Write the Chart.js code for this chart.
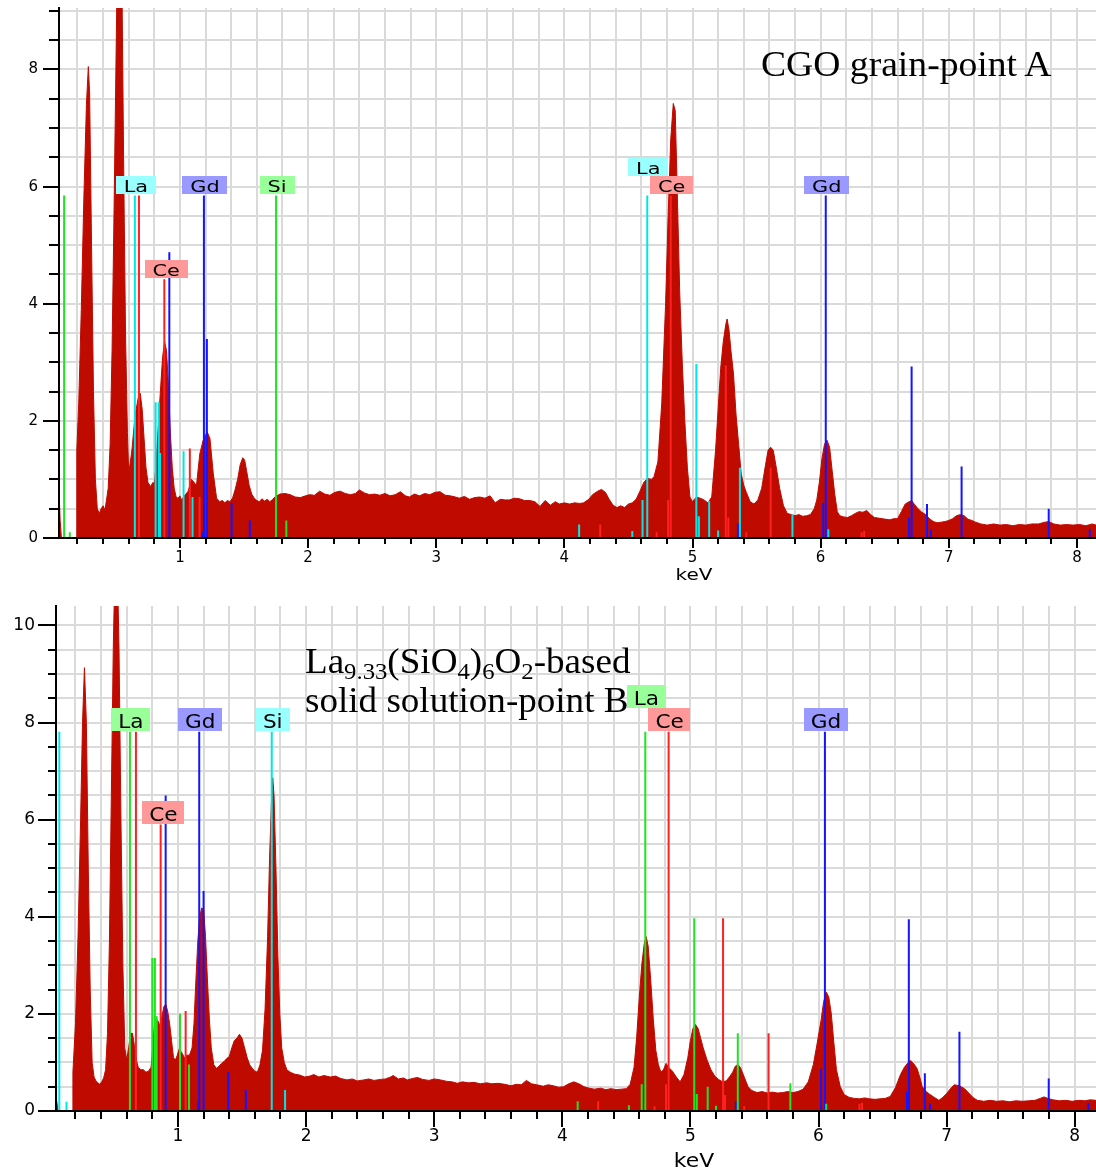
<!DOCTYPE html>
<html>
<head>
<meta charset="utf-8">
<script src="https://cdn.jsdelivr.net/npm/chart.js@4"></script>
<style>
  body { margin: 0; background: #fff; }
  #wrap { position: relative; width: 1096px; height: 1171px; overflow: hidden; }
  #wrap canvas { position: absolute; left: 0; }
  #chartA { top: 0; }
  #chartB { top: 585px; }
  .note { position: absolute; font-family: 'Liberation Serif', 'Times New Roman', serif; font-size: 36px; line-height: 39px; color: #000; white-space: nowrap; transform-origin: 0 0; }
  .note sub { font-size: 24px; vertical-align: baseline; position: relative; top: 6px; }
  .wideA { transform: scaleX(1.045); }
  .wideB { transform: scaleX(1.03); }
</style>
</head>
<body>
<div id="wrap">
  <canvas id="chartA" width="1096" height="585"></canvas>
  <canvas id="chartB" width="1096" height="586"></canvas>
  <div class="note wideA" style="left:761px; top:45px;">CGO grain-point A</div>
  <div class="note wideB" style="left:305px; top:642px;">La<sub>9.33</sub>(SiO<sub>4</sub>)<sub>6</sub>O<sub>2</sub>-based</div>
  <div class="note wideB" style="left:305px; top:681px;">solid solution-point B</div>
</div>
<script>
// ---- spectrum A: CGO grain (energy in keV, counts) ----
const energyA = [
  0.056,0.065,0.075,0.19,0.195,0.21,0.23,0.25,0.27,0.285,
  0.295,0.31,0.325,0.34,0.355,0.37,0.385,0.40,0.415,0.43,
  0.44,0.455,0.47,0.485,0.50,0.515,0.53,0.545,0.56,0.575,
  0.59,0.60,0.625,0.65,0.675,0.69,0.705,0.72,0.735,0.75,
  0.77,0.79,0.80,0.815,0.83,0.85,0.865,0.88,0.895,0.91,
  0.925,0.94,0.955,0.97,0.985,1.00,1.012,1.035,1.064,1.09,
  1.11,1.129,1.155,1.181,1.20,1.213,1.234,1.26,1.286,1.31,
  1.33,1.35,1.37,1.39,1.41,1.43,1.45,1.47,1.49,1.505,
  1.52,1.54,1.56,1.58,1.60,1.62,1.64,1.66,1.68,1.70,
  1.72,1.74,1.78,1.82,1.86,1.90,1.94,1.98,2.01,2.05,
  2.09,2.13,2.17,2.21,2.25,2.29,2.33,2.37,2.40,2.44,
  2.48,2.52,2.56,2.60,2.64,2.68,2.72,2.76,2.79,2.83,
  2.87,2.91,2.95,2.99,3.03,3.07,3.11,3.15,3.18,3.22,
  3.26,3.30,3.34,3.38,3.42,3.46,3.50,3.54,3.57,3.61,
  3.65,3.69,3.73,3.77,3.81,3.85,3.89,3.93,3.96,4.00,
  4.04,4.08,4.12,4.15,4.19,4.22,4.26,4.29,4.32,4.35,
  4.38,4.41,4.44,4.47,4.50,4.53,4.56,4.59,4.62,4.65,
  4.68,4.70,4.73,4.76,4.79,4.81,4.83,4.85,4.865,4.88,
  4.90,4.92,4.94,4.96,4.98,5.00,5.03,5.06,5.09,5.12,
  5.15,5.18,5.20,5.22,5.24,5.26,5.27,5.285,5.30,5.32,
  5.34,5.36,5.38,5.40,5.42,5.45,5.48,5.51,5.54,5.57,
  5.59,5.61,5.63,5.65,5.68,5.71,5.74,5.77,5.80,5.83,
  5.86,5.89,5.92,5.95,5.97,5.99,6.01,6.03,6.05,6.07,
  6.09,6.11,6.13,6.15,6.18,6.21,6.24,6.27,6.30,6.33,
  6.36,6.39,6.42,6.45,6.48,6.51,6.54,6.57,6.60,6.63,
  6.66,6.69,6.71,6.73,6.76,6.79,6.82,6.85,6.88,6.91,
  6.94,6.97,7.00,7.03,7.06,7.09,7.12,7.15,7.18,7.21,
  7.25,7.30,7.35,7.40,7.45,7.50,7.55,7.60,7.65,7.70,
  7.75,7.78,7.82,7.87,7.92,7.97,8.02,8.07,8.12,8.149
];
const countsA = [
  0.80,0.30,0,0,1.50,2.30,3.90,5.80,7.40,8.05,
  7.60,5.00,2.50,1.00,0.50,0.42,0.50,0.55,0.48,0.70,
  0.85,1.60,3.20,5.50,8.00,10.5,11.5,10.0,6.50,3.50,
  1.80,1.10,1.50,2.10,2.40,2.47,2.20,1.70,1.20,0.95,
  0.88,0.95,0.90,1.30,1.90,2.60,3.10,3.35,3.20,2.60,
  1.80,1.20,0.85,0.70,0.68,0.72,0.65,0.72,0.80,1.00,
  0.95,0.90,1.44,1.67,1.76,1.81,1.70,1.10,0.68,0.62,
  0.64,0.60,0.64,0.62,0.68,0.82,1.00,1.25,1.37,1.33,
  1.15,0.90,0.75,0.68,0.64,0.62,0.67,0.63,0.66,0.62,
  0.65,0.70,0.75,0.76,0.74,0.70,0.69,0.72,0.74,0.73,
  0.80,0.75,0.73,0.78,0.80,0.76,0.74,0.76,0.82,0.77,
  0.74,0.75,0.73,0.76,0.72,0.74,0.79,0.72,0.70,0.75,
  0.72,0.76,0.74,0.78,0.79,0.73,0.72,0.70,0.68,0.71,
  0.66,0.69,0.70,0.68,0.72,0.60,0.66,0.65,0.65,0.68,
  0.67,0.64,0.64,0.62,0.54,0.64,0.56,0.62,0.58,0.60,
  0.58,0.60,0.59,0.60,0.66,0.74,0.80,0.83,0.78,0.66,
  0.56,0.52,0.55,0.52,0.58,0.60,0.66,0.80,0.95,1.02,
  1.00,1.05,1.30,2.30,4.00,5.50,6.80,7.42,7.30,6.00,
  4.20,3.00,2.00,1.20,0.70,0.62,0.70,0.68,0.65,0.60,
  0.70,1.50,2.20,2.90,3.35,3.65,3.74,3.55,3.20,2.80,
  2.10,1.60,1.10,0.90,0.78,0.62,0.58,0.65,0.85,1.25,
  1.50,1.55,1.50,1.25,0.85,0.55,0.42,0.40,0.38,0.40,
  0.37,0.38,0.40,0.50,0.65,0.95,1.35,1.60,1.67,1.55,
  1.15,0.75,0.45,0.38,0.36,0.35,0.38,0.42,0.45,0.44,
  0.47,0.40,0.35,0.34,0.33,0.32,0.31,0.33,0.33,0.45,
  0.58,0.62,0.64,0.58,0.50,0.44,0.40,0.33,0.28,0.26,
  0.27,0.28,0.30,0.33,0.38,0.40,0.38,0.32,0.30,0.27,
  0.24,0.22,0.24,0.22,0.23,0.21,0.23,0.22,0.24,0.24,
  0.27,0.28,0.24,0.22,0.23,0.22,0.23,0.21,0.24,0.22
];

// ---- spectrum B: La9.33(SiO4)6O2-based solid solution ----
const energyB = [
  0.048,0.058,0.065,0.175,0.18,0.20,0.22,0.24,0.255,0.27,
  0.285,0.30,0.315,0.33,0.345,0.36,0.375,0.39,0.405,0.42,
  0.435,0.45,0.465,0.48,0.495,0.51,0.525,0.54,0.555,0.57,
  0.585,0.60,0.615,0.63,0.645,0.66,0.675,0.69,0.71,0.73,
  0.75,0.77,0.79,0.80,0.815,0.83,0.845,0.86,0.875,0.89,
  0.905,0.92,0.935,0.95,0.965,0.98,0.995,1.01,1.03,1.05,
  1.07,1.09,1.11,1.125,1.14,1.155,1.17,1.185,1.20,1.215,
  1.23,1.245,1.26,1.28,1.30,1.32,1.34,1.36,1.38,1.40,
  1.42,1.44,1.46,1.48,1.50,1.52,1.54,1.56,1.58,1.60,
  1.62,1.64,1.66,1.68,1.70,1.715,1.73,1.74,1.75,1.765,
  1.78,1.795,1.81,1.83,1.85,1.875,1.91,1.95,1.99,2.03,
  2.06,2.10,2.14,2.19,2.23,2.27,2.32,2.36,2.40,2.45,
  2.49,2.53,2.58,2.62,2.66,2.68,2.72,2.76,2.79,2.83,
  2.87,2.91,2.96,3.00,3.05,3.10,3.14,3.18,3.22,3.27,
  3.31,3.36,3.41,3.45,3.50,3.55,3.60,3.64,3.68,3.72,
  3.76,3.80,3.85,3.89,3.93,3.97,4.01,4.05,4.09,4.13,
  4.17,4.21,4.25,4.30,4.34,4.38,4.42,4.46,4.50,4.53,
  4.56,4.58,4.60,4.62,4.64,4.655,4.67,4.69,4.71,4.73,
  4.75,4.77,4.79,4.81,4.83,4.86,4.89,4.92,4.95,4.98,
  5.00,5.02,5.04,5.06,5.08,5.10,5.13,5.16,5.19,5.22,
  5.25,5.28,5.31,5.33,5.35,5.37,5.39,5.42,5.45,5.48,
  5.52,5.56,5.60,5.64,5.68,5.72,5.76,5.80,5.84,5.88,
  5.92,5.96,5.99,6.02,6.04,6.06,6.08,6.10,6.12,6.14,
  6.17,6.20,6.24,6.28,6.32,6.36,6.40,6.44,6.48,6.52,
  6.56,6.60,6.64,6.67,6.70,6.72,6.75,6.77,6.79,6.81,
  6.84,6.87,6.91,6.94,6.97,7.00,7.03,7.06,7.10,7.14,
  7.18,7.21,7.24,7.29,7.34,7.39,7.44,7.49,7.54,7.59,
  7.64,7.69,7.73,7.76,7.79,7.83,7.88,7.93,7.98,8.03,
  8.08,8.12,8.166
];
const countsB = [
  0.30,0.12,0,0,0.80,1.80,3.60,6.00,8.00,9.13,
  8.00,5.00,2.50,1.00,0.70,0.62,0.58,0.55,0.60,0.68,
  0.85,1.60,3.50,6.50,9.50,11.5,11.5,9.50,6.00,3.00,
  1.30,1.05,1.30,1.60,1.60,1.35,1.05,0.90,0.85,0.85,
  0.80,0.82,0.90,1.20,1.75,1.90,1.85,1.75,1.95,2.15,
  2.20,2.05,1.80,1.45,1.10,1.05,1.15,1.28,1.20,1.10,
  1.15,1.15,1.30,1.80,2.70,3.50,4.00,4.18,4.15,3.60,
  2.70,1.90,1.30,0.95,0.88,0.92,0.98,1.02,1.08,1.12,
  1.30,1.45,1.50,1.58,1.50,1.30,1.10,0.95,0.88,0.82,
  0.80,0.95,1.25,2.10,3.60,5.20,6.40,6.86,6.50,5.00,
  3.20,2.00,1.30,1.00,0.85,0.80,0.76,0.74,0.70,0.72,
  0.75,0.70,0.73,0.70,0.72,0.67,0.64,0.66,0.62,0.64,
  0.66,0.63,0.65,0.66,0.70,0.73,0.66,0.68,0.64,0.67,
  0.69,0.65,0.63,0.66,0.64,0.61,0.60,0.57,0.60,0.58,
  0.59,0.56,0.58,0.56,0.57,0.55,0.52,0.55,0.54,0.63,
  0.56,0.54,0.51,0.54,0.52,0.49,0.50,0.56,0.60,0.56,
  0.50,0.47,0.45,0.47,0.44,0.46,0.44,0.45,0.46,0.55,
  0.90,1.50,2.30,3.00,3.45,3.59,3.40,2.70,1.90,1.25,
  0.95,0.80,0.85,0.98,0.90,0.82,0.70,0.60,0.75,1.10,
  1.45,1.70,1.78,1.70,1.50,1.30,1.05,0.85,0.72,0.65,
  0.60,0.62,0.72,0.80,0.92,0.96,0.90,0.70,0.50,0.42,
  0.38,0.40,0.37,0.39,0.37,0.38,0.40,0.38,0.40,0.45,
  0.60,0.96,1.40,1.87,2.25,2.45,2.35,2.00,1.40,0.85,
  0.50,0.34,0.28,0.26,0.25,0.27,0.25,0.24,0.25,0.26,
  0.30,0.48,0.75,0.90,1.00,1.04,0.95,0.87,0.70,0.50,
  0.40,0.34,0.27,0.22,0.28,0.36,0.46,0.54,0.52,0.46,
  0.35,0.27,0.22,0.20,0.22,0.20,0.21,0.19,0.21,0.20,
  0.21,0.22,0.26,0.29,0.26,0.23,0.21,0.22,0.20,0.22,
  0.21,0.23,0.22
];

// ---- element line markers (energy, relative height) ----
const markA = {
  cyan:  { e: [0.648,0.81,0.835,0.845,1.028,1.098,4.115,4.53,4.61,4.647,5.03,5.05,5.13,5.20,5.37,5.78,6.06],
           h: [5.85,2.32,2.32,1.45,1.48,0.70,0.23,0.12,0.65,5.85,2.97,0.37,0.63,0.13,1.20,0.40,0.15] },
  red:   { e: [0.68,0.878,1.077,1.153,4.28,4.72,4.81,4.83,5.26,5.28,5.42,5.61,6.32,6.34],
           h: [5.85,4.42,1.53,0.70,0.23,0.10,0.65,5.85,2.95,0.35,0.10,1.20,0.10,0.12] },
  blue:  { e: [0.917,1.176,1.187,1.21,1.403,1.545,5.355,6.02,6.04,6.69,6.71,6.83,6.86,7.10,7.78,8.10],
           h: [4.88,0.10,5.85,3.40,0.60,0.30,0.25,0.60,5.85,0.35,2.93,0.58,0.15,1.22,0.50,0.15] },
  green: { e: [0.096,0.14,1.75,1.83],
           h: [5.85,0.10,5.85,0.30] }
};
const markB = {
  cyan:  { e: [0.074,0.13,1.732,1.836],
           h: [7.81,0.19,7.81,0.43] },
  green: { e: [0.625,0.80,0.82,0.834,1.016,1.086,4.12,4.52,4.62,4.648,5.03,5.05,5.135,5.20,5.37,5.78,6.06],
           h: [7.81,3.15,3.15,1.95,2.01,0.96,0.20,0.12,0.55,7.81,3.97,0.35,0.50,0.11,1.60,0.57,0.15] },
  red:   { e: [0.672,0.865,1.06,4.28,4.72,4.81,4.83,5.255,5.27,5.42,5.61,6.32,6.34],
           h: [7.81,5.90,2.06,0.20,0.10,0.55,7.81,3.97,0.33,0.10,1.60,0.15,0.17] },
  blue:  { e: [0.904,1.16,1.166,1.20,1.393,1.53,5.355,6.02,6.05,6.69,6.705,6.83,6.87,7.10,7.797,8.107],
           h: [6.50,0.20,7.81,4.53,0.80,0.43,0.20,0.87,7.81,0.40,3.95,0.78,0.15,1.63,0.67,0.17] }
};

// ---- element tags ----
const tagTextA = ['La', 'Ce', 'Gd', 'Si', 'La', 'Ce', 'Gd'];
const tagEnergyA = [0.648, 0.885, 1.187, 1.75, 4.647, 4.83, 6.04];
const tagHeightA = [5.85, 4.42, 5.85, 5.85, 5.85, 5.85, 5.85];
const tagRowA = [0, 0, 0, 0, 1, 0, 0];
const tagColorA = { La: 'cyan', Ce: 'red', Gd: 'blue', Si: 'green' };

const tagTextB = ['La', 'Ce', 'Gd', 'Si', 'La', 'Ce', 'Gd'];
const tagEnergyB = [0.625, 0.879, 1.166, 1.732, 4.648, 4.83, 6.05];
const tagHeightB = [7.81, 5.90, 7.81, 7.81, 7.81, 7.81, 7.81];
const tagRowB = [0, 0, 0, 0, 1, 0, 0];
const tagColorB = { La: 'green', Ce: 'red', Gd: 'blue', Si: 'cyan' };

const axisTitle = 'keV';

const lineColors = { cyan: '#00e6e6', red: '#ff2020', blue: '#1414ff', green: '#1ee61e' };
const boxColors = { cyan: '#99ffff', red: '#ff9999', blue: '#9999ff', green: '#99ff99' };
const specColor = '#bf0a00';

Chart.defaults.font.family = 'DejaVu Sans';
Chart.defaults.color = '#000';

// draws the coloured element boxes on top of their lines
const tagPlugin = {
  id: 'elementTags',
  afterDatasetsDraw(chart, args, opts) {
    const { ctx, scales: { x, y } } = chart;
    ctx.save();
    ctx.font = opts.size + 'px "DejaVu Sans"';
    ctx.textAlign = 'center';
    ctx.textBaseline = 'alphabetic';
    opts.text.forEach((t, i) => {
      const w = ctx.measureText(t).width * opts.stretch + opts.pad * 2;
      const cx = x.getPixelForValue(opts.energy[i]) + 1;
      const bottom = y.getPixelForValue(opts.height[i]) - 1 - opts.row[i] * opts.boxH;
      ctx.fillStyle = boxColors[opts.colors[t]];
      ctx.fillRect(Math.round(cx - w / 2), Math.round(bottom - opts.boxH), Math.round(w), opts.boxH);
      ctx.fillStyle = '#000';
      ctx.save();
      ctx.translate(cx, bottom - opts.lift);
      ctx.scale(opts.stretch, 1);
      ctx.fillText(t, 0, 0);
      ctx.restore();
    });
    ctx.restore();
  }
};

// longer tick marks where a number is printed, plus the axis unit
const axisExtrasPlugin = {
  id: 'axisExtras',
  afterDraw(chart, args, opts) {
    const { ctx, chartArea, scales: { x, y } } = chart;
    ctx.save();
    ctx.strokeStyle = '#000';
    ctx.lineWidth = 2;
    ctx.beginPath();
    x.ticks.forEach(t => {
      if (t.label === '') return;
      const px = Math.round(x.getPixelForValue(t.value));
      ctx.moveTo(px, chartArea.bottom);
      ctx.lineTo(px, chartArea.bottom + opts.majorX);
    });
    y.ticks.forEach(t => {
      if (t.label === '') return;
      const py = Math.round(y.getPixelForValue(t.value));
      ctx.moveTo(chartArea.left, py);
      ctx.lineTo(chartArea.left - opts.majorY, py);
    });
    ctx.stroke();

    ctx.fillStyle = '#000';
    ctx.font = opts.titleSize + 'px "DejaVu Sans"';
    ctx.textAlign = 'center';
    ctx.textBaseline = 'alphabetic';
    ctx.translate(opts.titleX, opts.titleBase);
    ctx.scale(opts.titleStretch, 1);
    ctx.fillText(axisTitle, 0, 0);
    ctx.restore();
  }
};

function markerSets(marks) {
  return Object.keys(marks).map(col => {
    const m = marks[col];
    const pts = [];
    m.e.forEach((e, i) => {
      pts.push({ x: e, y: 0 }, { x: e, y: m.h[i] }, { x: e, y: null });
    });
    return {
      data: pts,
      borderColor: lineColors[col],
      borderWidth: 2,
      pointRadius: 0,
      fill: false,
      spanGaps: false
    };
  });
}

function drawSpectrum(id, p) {
  const spectrum = p.energy.map((e, i) => ({ x: e, y: p.counts[i] }));
  const gridBase = { color: '#dadada', lineWidth: 2, tickColor: '#000', tickWidth: 2 };
  return new Chart(document.getElementById(id), {
    type: 'line',
    data: {
      datasets: [
        ...markerSets(p.marks),
        {
          data: spectrum,
          borderColor: specColor,
          backgroundColor: specColor,
          borderWidth: 1,
          pointRadius: 0,
          tension: 0,
          fill: 'origin'
        }
      ]
    },
    options: {
      responsive: false,
      animation: false,
      events: [],
      layout: { padding: { top: p.padTop, left: 0, right: 0, bottom: 0 } },
      plugins: {
        legend: { display: false },
        tooltip: { enabled: false },
        elementTags: p.tags,
        axisExtras: p.axis
      },
      scales: {
        x: {
          type: 'linear',
          min: p.xMin,
          max: p.xMax,
          offset: false,
          grid: { ...gridBase, offset: false, tickLength: p.minorX },
          border: { color: '#000', width: 2, z: 1 },
          ticks: {
            stepSize: 0.2,
            maxTicksLimit: 100,
            includeBounds: false,
            autoSkip: false,
            maxRotation: 0,
            padding: p.xPad,
            font: { size: p.font },
            callback: v => Number.isInteger(v) ? String(v) : ''
          },
          afterFit: s => { s.height = p.xHeight; s.paddingLeft = 0; s.paddingRight = 0; }
        },
        y: {
          min: 0,
          max: p.yMax,
          grid: { ...gridBase, tickLength: p.minorY },
          border: { color: '#000', width: 2, z: 1 },
          ticks: {
            stepSize: 0.5,
            maxTicksLimit: 100,
            includeBounds: false,
            autoSkip: false,
            padding: p.yPad,
            font: { size: p.font },
            callback: v => v % 2 === 0 ? String(v) : ''
          },
          afterFit: s => { s.width = p.yWidth; s.paddingTop = 0; s.paddingBottom = 0; }
        }
      }
    },
    plugins: [tagPlugin, axisExtrasPlugin]
  });
}

drawSpectrum('chartA', {
  energy: energyA, counts: countsA, marks: markA,
  xMin: 0.056, xMax: 8.149, yMax: 9.05,
  padTop: 8, xHeight: 47, yWidth: 59, font: 15,
  minorX: 6, minorY: 10, xPad: 5, yPad: 11,
  axis: { majorX: 10, majorY: 16, titleX: 694, titleBase: 580, titleSize: 16, titleStretch: 1.25 },
  tags: { text: tagTextA, energy: tagEnergyA, height: tagHeightA, row: tagRowA, colors: tagColorA,
          size: 16, stretch: 1.3, pad: 8, boxH: 18, lift: 2 }
});

drawSpectrum('chartB', {
  energy: energyB, counts: countsB, marks: markB,
  xMin: 0.048, xMax: 8.166, yMax: 10.4,
  padTop: 21, xHeight: 60, yWidth: 56, font: 17,
  minorX: 8, minorY: 8, xPad: 7, yPad: 13,
  axis: { majorX: 16, majorY: 18, titleX: 694, titleBase: 582, titleSize: 19, titleStretch: 1.15 },
  tags: { text: tagTextB, energy: tagEnergyB, height: tagHeightB, row: tagRowB, colors: tagColorB,
          size: 20, stretch: 1.08, pad: 7, boxH: 23, lift: 3 }
});
</script>
</body>
</html>
